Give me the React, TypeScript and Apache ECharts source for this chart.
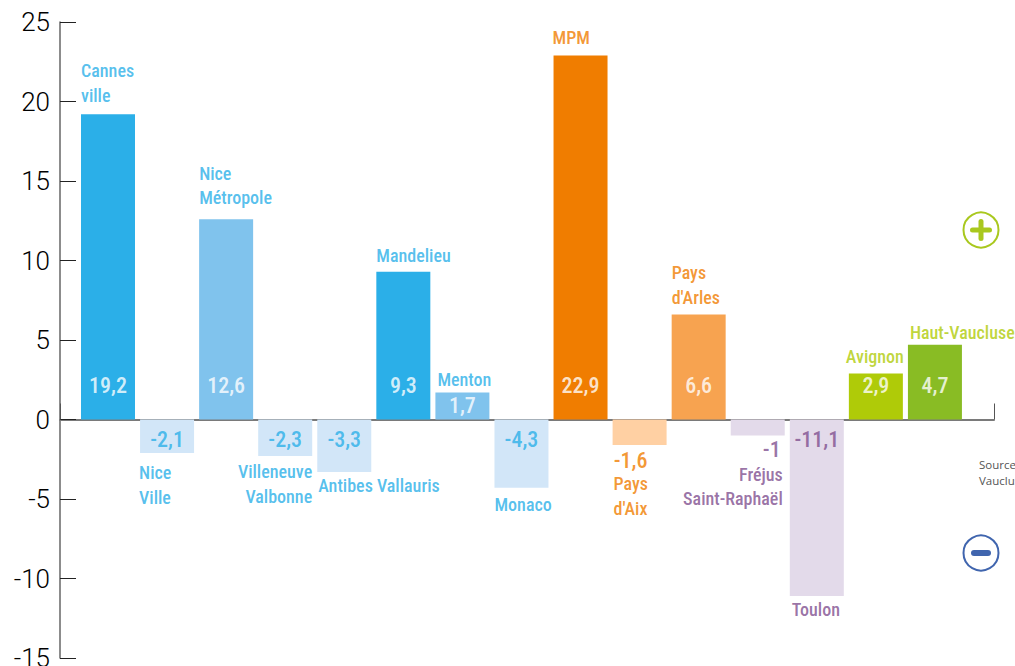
import React, { useEffect, useRef } from "react";
import * as echarts from "echarts";

const FONT = '"Roboto Condensed", "Liberation Sans Narrow", "Liberation Sans", sans-serif';

const names = [
  "Cannes\nville", "Nice\nVille", "Nice\nMétropole", "Villeneuve\nValbonne", "Antibes Vallauris",
  "Mandelieu", "Menton", "Monaco", "MPM", "Pays\nd'Aix", "Pays\nd'Arles",
  "Fréjus\nSaint-Raphaël", "Toulon", "Avignon", "Haut-Vaucluse",
];
const values = [19.2, -2.1, 12.6, -2.3, -3.3, 9.3, 1.7, -4.3, 22.9, -1.6, 6.6, -1, -11.1, 2.9, 4.7];
const barColors = [
  "#2BAFE8", "#D2E6F8", "#80C3ED", "#D2E6F8", "#D2E6F8", "#2BAFE8", "#80C3ED", "#D2E6F8",
  "#F07D00", "#FFD0A3", "#F7A350", "#E3DAEA", "#E3DAEA", "#AFCB08", "#89BC24",
];
const nameColors = [
  "#2BAFE8", "#2BAFE8", "#2BAFE8", "#2BAFE8", "#2BAFE8", "#2BAFE8", "#2BAFE8", "#2BAFE8",
  "#F07D00", "#F07D00", "#F07D00", "#7F4F8F", "#7F4F8F", "#AFCB08", "#AFCB08",
];
const valueColors = [
  "#fff", "#2BAFE8", "#fff", "#2BAFE8", "#2BAFE8", "#fff", "#fff", "#2BAFE8",
  "#fff", "#F07D00", "#fff", "#7F4F8F", "#7F4F8F", "#fff", "#fff",
];
// label placement relative to the foot of each bar: [dx, dy, align]
const namePlace: [number, number, string][] = [
  [-27, -336.5, "left"], [-28, 65.5, "left"], [-27, -234, "left"], [27, 64.5, "right"], [-26, 65.5, "left"],
  [-27, -164.5, "left"], [-25, -40.5, "left"], [-27, 84.5, "left"], [-28, -382.5, "left"], [-26, 76.5, "left"],
  [-27, -134.5, "left"], [25, 67, "right"], [-25, 189.5, "left"], [-30, -63.5, "left"], [-25, -87.5, "left"],
];
const valuePlace: [number, number][] = [
  [0, -34], [0, 20], [0, -34], [0, 20], [0, 20], [0, -34], [0, -14], [0, 20],
  [0, -34], [-9, 41], [0, -34], [14, 30], [0, 20], [0, -34], [0, -34],
];
const yTicks = { min: -15, max: 25, interval: 5 };
const xLead = 0.8126;
const xSpan = 15.8126;

const App = () => {
  const ref = useRef<HTMLDivElement>(null);
  useEffect(() => {
    const chart = echarts.init(ref.current!, undefined, { renderer: "svg" });
    const xs = values.map((_, i) => i + xLead);
    chart.setOption({
      animation: false,
      grid: { left: 60, top: 22, width: 934, height: 636, containLabel: false, outerBoundsMode: "none" },
      xAxis: {
        type: "value", min: 0, max: xSpan, interval: xSpan,
        position: "bottom",
        axisLine: { show: true, onZero: true, lineStyle: { color: "#7a7a7a", width: 2 } },
        axisTick: { show: true, inside: true, length: 16, lineStyle: { color: "#555", width: 1 } },
        axisLabel: { show: false }, splitLine: { show: false },
      },
      yAxis: {
        type: "value", ...yTicks,
        axisLine: { show: true, onZero: false, lineStyle: { color: "#666", width: 1.5 } },
        axisTick: { show: true, inside: true, length: 16, lineStyle: { color: "#222", width: 1 } },
        axisLabel: {
          color: "#000", fontFamily: "Roboto", fontWeight: 300, fontSize: 26, margin: 10,
          formatter: (v: number) => String(v),
        },
        splitLine: { show: false },
      },
      series: [
        {
          type: "bar", barWidth: 54, silent: true,
          data: values.map((v, i) => ({ value: [xs[i], v], itemStyle: { color: barColors[i] } })),
        },
        {
          type: "scatter", symbolSize: 0, silent: true, z: 5,
          data: values.map((v, i) => ({
            value: [xs[i], 0],
            label: {
              show: true, position: "inside", formatter: String(v).replace(".", ","),
              offset: valuePlace[i], color: valueColors[i],
              fontFamily: FONT, fontWeight: 500, fontSize: 22, align: "center", verticalAlign: "middle",
            },
          })),
        },
        {
          type: "scatter", symbolSize: 0, silent: true, z: 5, clip: false,
          data: names.map((n, i) => ({
            value: [xs[i], 0],
            label: {
              show: true, position: "inside", formatter: n,
              offset: [namePlace[i][0], namePlace[i][1]], color: nameColors[i],
              align: namePlace[i][2], verticalAlign: "middle",
              fontFamily: FONT, fontWeight: 500, fontSize: 18, lineHeight: 24.5,
            },
          })),
        },
      ],
      graphic: [
        { type: "circle", shape: { cx: 981, cy: 230, r: 17.5 }, style: { fill: "none", stroke: "#A9C81E", lineWidth: 2 } },
        { type: "rect", shape: { x: 970, y: 227.5, width: 22, height: 5, r: 2.5 }, style: { fill: "#A9C81E" } },
        { type: "rect", shape: { x: 978.5, y: 219, width: 5, height: 22, r: 2.5 }, style: { fill: "#A9C81E" } },
        { type: "circle", shape: { cx: 981, cy: 553, r: 17.5 }, style: { fill: "none", stroke: "#4065AE", lineWidth: 2 } },
        { type: "rect", shape: { x: 971, y: 550, width: 20, height: 6, r: 3 }, style: { fill: "#4065AE" } },
        { type: "text", x: 979, y: 456, style: { text: "Source\nVaucluse", fill: "#555", font: '11.5px "Open Sans"', lineHeight: 16 } },
      ],
    });
    return () => chart.dispose();
  }, []);
  return <div ref={ref} style={{ position: "absolute", left: 0, top: 0, width: 1015, height: 666, overflow: "hidden", background: "#fff" }} />;
};

export default App;
